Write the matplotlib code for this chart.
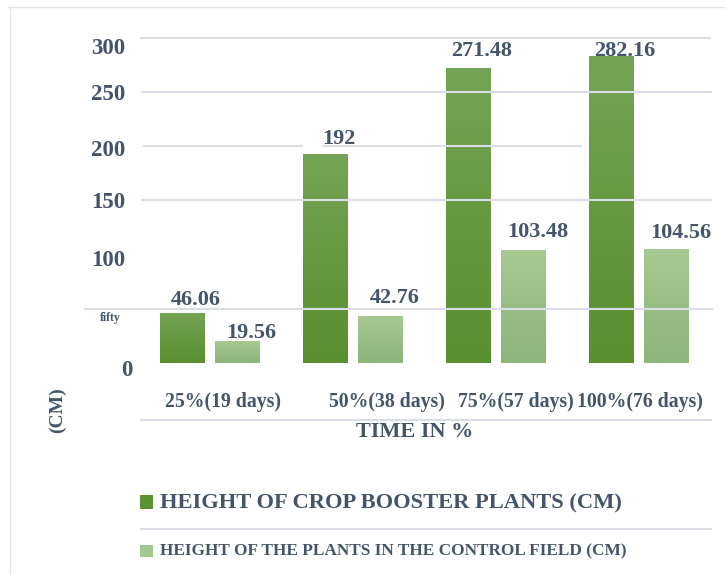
import numpy as np
import matplotlib
matplotlib.use("Agg")
import matplotlib.pyplot as plt
from matplotlib.colors import LinearSegmentedColormap
from matplotlib.lines import Line2D
from matplotlib.patches import Rectangle
from matplotlib.transforms import offset_copy

# ---- data
categories = ["25%(19 days)", "50%(38 days)", "75%(57 days)", "100%(76 days)"]
booster = [46.06, 192, 271.48, 282.16]
control = [19.56, 42.76, 103.48, 104.56]
yticks = [0, 50, 100, 150, 200, 250, 300]
ytick_labels = ["0", "fifty", "100", "150", "200", "250", "300"]
series_names = ["HEIGHT OF CROP BOOSTER PLANTS (CM)",
                "HEIGHT OF THE PLANTS IN THE CONTROL FIELD (CM)"]

# ---- style
W, H = 725, 575
txt = "#44546a"
grid_c = "#d9dde5"
font = "Liberation Serif"
dark = ("#5a8f2f", "#74a355")    # bottom, top
light = ("#8db479", "#a6c992")

plt.rcParams["font.family"] = font
plt.rcParams["font.weight"] = "bold"

fig = plt.figure(figsize=(W / 100, H / 100), dpi=100, facecolor="white")

# axes placed so that pixel 363 -> 0 and pixel 37.5 -> 300
ax = fig.add_axes([140 / W, (H - 363) / H, 571 / W, 325.5 / H])
ax.axis("off")
x_lo, x_hi = -70 / 143, 501 / 143


def px(p):
    # horizontal pixel -> data x
    return (p - 210) / 143


def fig_line(x0, x1, y0, y1, color=grid_c, lw=1.5):
    fig.add_artist(Line2D([x0 / W, x1 / W], [1 - y0 / H, 1 - y1 / H],
                          color=color, lw=lw, transform=fig.transFigure))


def gradient_bar(x, h, w, cols):
    cmap = LinearSegmentedColormap.from_list("g", list(cols))
    grad = np.linspace(0, 1, 64).reshape(-1, 1)
    ax.imshow(grad, cmap=cmap, origin="lower", aspect="auto",
              extent=[x - w / 2, x + w / 2, 0, h], zorder=2)


idx = np.arange(len(categories))
bw = 45 / 143
off = 27.5 / 143
for i in idx:
    gradient_bar(i - off, booster[i], bw, dark)
    gradient_bar(i + off, control[i], bw, light)
ax.set_xlim(x_lo, x_hi)
ax.set_ylim(0, 300)

# gridlines (drawn over the bars, as in the original)
grid_spans = {300: [(140, 711)], 250: [(141, 712)], 200: [(143, 303), (323, 582)],
              150: [(141, 712)], 50: [(84, 713)]}
for val, spans in grid_spans.items():
    for a, b in spans:
        ax.plot([px(a), px(b)], [val, val], color=grid_c, lw=1.5, zorder=3,
                clip_on=False, solid_capstyle="butt")

# y tick labels (hand placed, slightly below their lines)
tick_dx = [7, 0, 0, 0, 0, 0, 0]
tick_dy = [-8, -9, -6, -2, -5, -3, -11]
tick_size = [16.5, 8.5, 16.5, 16.5, 16.5, 16.5, 16.5]
for v, lab, dx, dy, s in zip(yticks, ytick_labels, tick_dx, tick_dy, tick_size):
    tr = offset_copy(ax.transData, fig=fig, x=dx, y=dy, units="dots")
    right = px(121) if lab == "fifty" else px(125)
    ax.text(right, v, lab, transform=tr, ha="right", va="center",
            fontsize=s, color=txt, fontweight="bold", clip_on=False)

# value labels
lab_dy_b = [8, 11, 12, 1]
lab_dy_c = [4, 14, 14, 12]
for i in idx:
    tr = offset_copy(ax.transData, fig=fig, x=13, y=lab_dy_b[i], units="dots")
    ax.text(i - off, booster[i], f"{booster[i]:g}", transform=tr, ha="center",
            va="baseline", fontsize=16, color=txt, fontweight="bold", zorder=4)
    tr = offset_copy(ax.transData, fig=fig, x=14, y=lab_dy_c[i], units="dots")
    ax.text(i + off, control[i], f"{control[i]:g}", transform=tr, ha="center",
            va="baseline", fontsize=16, color=txt, fontweight="bold", zorder=4)

# category labels (not centered in the original)
cat_shift = [0.09, 0.24, 0.14, 0.01]
for i, c in enumerate(categories):
    tr = offset_copy(ax.transData, fig=fig, x=0, y=-39, units="dots")
    ax.text(i + cat_shift[i], 0, c, transform=tr, ha="center", va="center",
            fontsize=14.2, color=txt, fontweight="bold", clip_on=False)

# axis line below categories, axis titles
fig_line(141, 711, 420, 420)
fig.text(415 / W, 1 - 432 / H, "TIME IN %", ha="center", va="center",
         fontsize=16, color=txt, fontweight="bold")
fig.text(57 / W, 1 - 410 / H, "(CM)", ha="center", va="center", rotation=90,
         fontsize=14, color=txt, fontweight="bold")

# legend
fig.add_artist(Rectangle((140 / W, 1 - 509 / H), 13 / W, 14 / H,
                         facecolor="#5b9233", edgecolor="none", transform=fig.transFigure))
fig.text(160 / W, 1 - 503 / H, series_names[0], ha="left", va="center",
         fontsize=16.2, color=txt, fontweight="bold")
fig_line(141, 711, 529, 529)
fig.add_artist(Rectangle((140 / W, 1 - 557 / H), 13 / W, 12 / H,
                         facecolor="#a2c78f", edgecolor="none", transform=fig.transFigure))
fig.text(160 / W, 1 - 551 / H, series_names[1], ha="left", va="center",
         fontsize=12.4, color=txt, fontweight="bold")

# faint outer frame (top and left)
fig_line(8, 725, 7, 7, color="#e4e4e4", lw=1.0)
fig_line(10, 10, 7, 575, color="#e4e4e4", lw=1.0)

fig.savefig("out.png", dpi=100, facecolor="white")
